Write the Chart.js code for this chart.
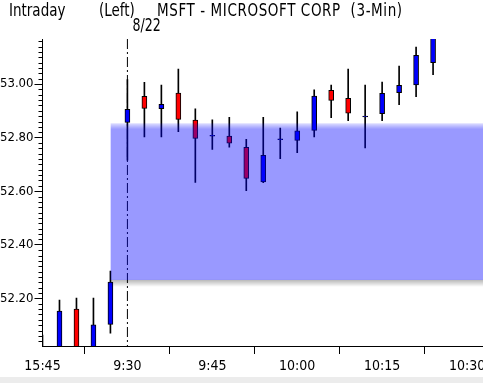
<!DOCTYPE html>
<html><head><meta charset="utf-8">
<script src="https://cdn.jsdelivr.net/npm/chart.js@4/dist/chart.umd.min.js"></script>
<style>
html,body{margin:0;padding:0;background:#ececec;}
#wrap{position:relative;width:483px;height:377px;background:#fff;overflow:hidden}
canvas{position:absolute;left:0;top:0}
.t{position:absolute;top:0;font-family:'DejaVu Sans Condensed','Liberation Sans',sans-serif;font-size:15px;color:#000;white-space:pre;line-height:18px;transform:scaleY(1.12);transform-origin:0 0}
</style></head><body>
<div id="wrap">
<canvas id="c" width="483" height="377"></canvas>
<div class="t" style="left:9px">Intraday</div>
<div class="t" style="left:99px">(Left)</div>
<div class="t" style="left:157px;letter-spacing:0.6px">MSFT - MICROSOFT CORP  (3-Min)</div>
</div>
<script>
// ---- data (3-minute candles, index 0 = 15:45 previous day, index 5 = 9:30 on 8/22) ----
const candleIndex = [0,1,2,3,4,5,6,7,8,9,10,11,12,13,14,15,16,17,18,19,20,21,22,23];
const openP  = [51.98,52.00,52.160,52.00,52.103,52.857,52.954,52.908,52.966,52.865,52.805,52.806,52.764,52.635,52.792,52.790,52.827,52.976,52.947,52.877,52.889,52.968,52.997,53.080];
const highP  = [52.063,52.194,52.201,52.201,52.302,53.017,53.006,52.996,53.056,52.907,52.866,52.876,52.794,52.876,52.836,52.896,52.978,52.996,53.056,52.996,53.007,53.067,53.138,53.190];
const lowP   = [51.95,51.95,51.95,51.95,52.070,52.716,52.803,52.803,52.822,52.633,52.756,52.764,52.602,52.632,52.721,52.744,52.803,52.874,52.863,52.762,52.863,52.923,52.953,53.035];
const closeP = [51.99,52.153,52.00,52.101,52.261,52.906,52.909,52.924,52.868,52.797,52.805,52.779,52.648,52.734,52.792,52.825,52.955,52.939,52.891,52.877,52.965,52.995,53.107,53.171];

const xTickIndex  = [0,5,10,15,20,25];
const xTickLabels = ['15:45','9:30','9:45','10:00','10:15','10:30'];
const yMajorTicks = [52.20,52.40,52.60,52.80,53.00];
const yMinorTicks = [52.04,52.06,52.08,52.10,52.12,52.14,52.16,52.18,52.22,52.24,52.26,52.28,52.30,52.32,52.34,52.36,52.38,52.42,52.44,52.46,52.48,52.50,52.52,52.54,52.56,52.58,52.62,52.64,52.66,52.68,52.70,52.72,52.74,52.76,52.78,52.82,52.84,52.86,52.88,52.90,52.92,52.94,52.96,52.98,53.02,53.04,53.06,53.08,53.10,53.12,53.14,53.16];
const yRange = [52.0224, 53.168];
const xRange = [0, 25.94];
const bandRange = [52.269, 52.854];
const bandStartIndex = 4;
const sessionBreakIndex = 5;
const sessionLabel = '8/22';

const FONT = "'DejaVu Sans Condensed','Liberation Sans',sans-serif";
const UP = '#0000ff', DOWN = '#ff0000';

const bodyData = candleIndex.map((x,i)=>({x, y:[openP[i], closeP[i]]}));
const wickData = candleIndex.map((x,i)=>({x, y:[lowP[i], highP[i]]}));
const bodyColors = candleIndex.map((x,i)=> closeP[i] >= openP[i] ? UP : DOWN);

const decor = {
  id: 'decor',
  beforeDatasetsDraw(chart) {
    const {ctx, chartArea:a, scales:{x}} = chart;
    const px = x.getPixelForValue(sessionBreakIndex);
    ctx.save();
    ctx.strokeStyle = '#000';
    ctx.lineWidth = 1;
    ctx.setLineDash([10,3,2,3]);
    ctx.beginPath();
    ctx.moveTo(px, a.top);
    ctx.lineTo(px, a.bottom);
    ctx.stroke();
    ctx.restore();
  },
  afterDatasetsDraw(chart) {
    const {ctx, chartArea:a, scales:{x,y}} = chart;
    const y0 = y.getPixelForValue(bandRange[0]);
    const x0 = x.getPixelForValue(bandStartIndex);
    const g = ctx.createLinearGradient(0, y0, 0, y0 + 7);
    g.addColorStop(0, 'rgba(0,0,0,0.28)');
    g.addColorStop(1, 'rgba(0,0,0,0)');
    ctx.save();
    ctx.fillStyle = g;
    ctx.fillRect(x0, y0, a.right - x0, 7);
    ctx.restore();
  },
  afterDraw(chart) {
    const {ctx, chartArea:a, scales:{x,y}} = chart;
    ctx.save();
    ctx.strokeStyle = '#000';
    ctx.lineWidth = 1;
    ctx.beginPath();
    yMinorTicks.forEach(v => {
      const py = Math.round(y.getPixelForValue(v)) + 0.5;
      if (py < a.top || py > a.bottom) return;
      ctx.moveTo(a.left - 4, py);
      ctx.lineTo(a.left, py);
    });
    ctx.stroke();
    const px = x.getPixelForValue(sessionBreakIndex);
    ctx.fillStyle = '#000';
    ctx.font = '14px ' + FONT;
    ctx.textAlign = 'left';
    ctx.textBaseline = 'alphabetic';
    ctx.translate(px + 5, 31);
    ctx.scale(1, 1.2);
    ctx.fillText(sessionLabel, 0, 0);
    ctx.restore();
  }
};

new Chart(document.getElementById('c'), {
  type: 'bar',
  data: {
    datasets: [
      {
        type: 'bar', label: 'body', data: bodyData, order: 1,
        backgroundColor: bodyColors, borderColor: '#000', borderWidth: 1,
        borderSkipped: false, barThickness: 5, minBarLength: 1, grouped: false
      },
      {
        type: 'bar', label: 'wick', data: wickData, order: 2,
        backgroundColor: '#000', borderWidth: 0, barThickness: 1, grouped: false
      },
      {
        type: 'line', label: 'band', order: 0,
        data: [{x: bandStartIndex, y: bandRange[1]}, {x: xRange[1], y: bandRange[1]}],
        showLine: false, pointRadius: 0, borderWidth: 0, borderColor: 'rgba(0,0,0,0)',
        fill: {value: bandRange[0]},
        backgroundColor: (c) => {
          const ch = c.chart;
          if (!ch.chartArea) return 'rgba(0,0,255,0.4)';
          const t = ch.scales.y.getPixelForValue(bandRange[1]);
          const g = ch.ctx.createLinearGradient(0, t, 0, t + 6);
          g.addColorStop(0, 'rgba(0,0,255,0.12)');
          g.addColorStop(1, 'rgba(0,0,255,0.4)');
          return g;
        }
      }
    ]
  },
  options: {
    responsive: false, animation: false, events: [],
    layout: {padding: {top: 39, left: 0, right: 0, bottom: 0}},
    plugins: {legend: {display: false}, tooltip: {enabled: false}, title: {display: false}},
    scales: {
      x: {
        type: 'linear', min: xRange[0], max: xRange[1], offset: false,
        grid: {display: true, drawOnChartArea: false, drawTicks: true, tickLength: 8, color: '#000'},
        border: {display: true, color: '#000', width: 1},
        ticks: {
          color: '#000', padding: 4, maxRotation: 0, autoSkip: false,
          font: {family: FONT, size: 14},
          callback: (v) => { const k = xTickIndex.indexOf(v); return k >= 0 ? xTickLabels[k] : ''; }
        },
        afterBuildTicks: (s) => { s.ticks = xTickIndex.map(v => ({value: v})); },
        afterFit: (s) => { s.paddingRight = 0; s.paddingLeft = 0; s.height = 31; }
      },
      y: {
        type: 'linear', position: 'left', min: yRange[0], max: yRange[1],
        grid: {display: true, drawOnChartArea: false, drawTicks: true, tickLength: 8, color: '#000'},
        border: {display: true, color: '#000', width: 1},
        ticks: {
          color: '#000', padding: 1, font: {family: FONT, size: 13},
          callback: (v) => Number(v).toFixed(2)
        },
        afterBuildTicks: (s) => { s.ticks = yMajorTicks.map(v => ({value: v})); },
        afterFit: (s) => { s.width = 42.5; s.paddingTop = 0; s.paddingBottom = 0; }
      }
    }
  },
  plugins: [decor]
});
</script>
</body></html>
